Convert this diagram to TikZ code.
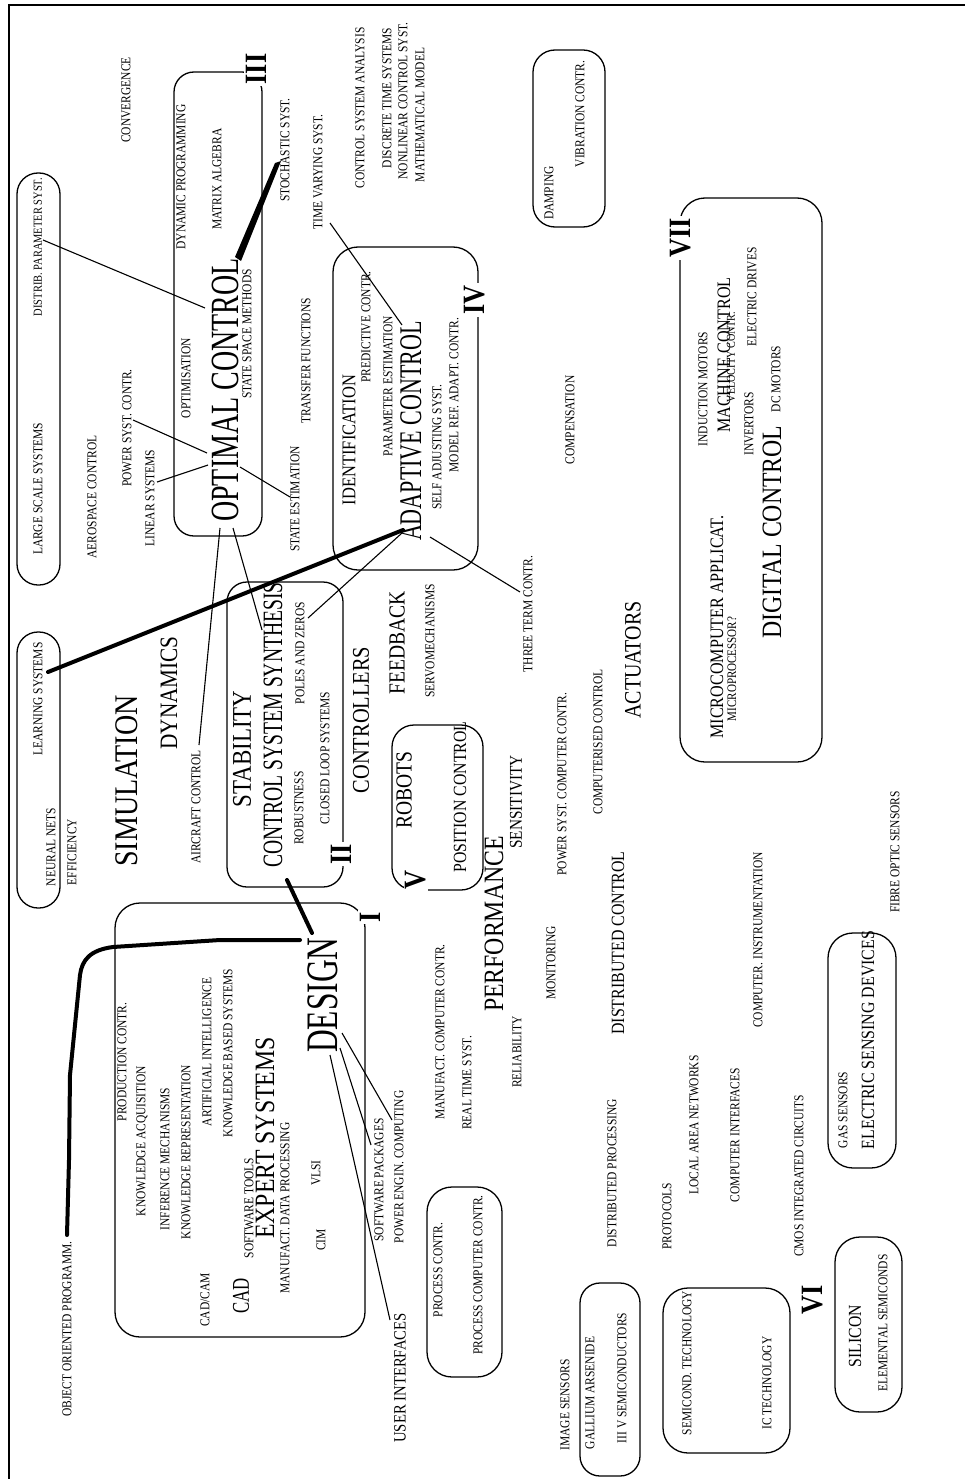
\documentclass[tikz,border=0pt]{standalone}
\usepackage{fontspec}
\setmainfont{Liberation Serif}[FakeStretch=0.85]
\newfontfamily\narrowfont{Liberation Serif}[FakeStretch=0.7]
\usetikzlibrary{calc}

\tikzset{
  lbl/.style={rotate=90, inner sep=0pt, font=\fontsize{#1}{#1}\selectfont},
  lbl/.default=13.5,
  nlbl/.style={rotate=90, inner sep=0pt, font=\narrowfont\fontsize{#1}{#1}\selectfont},
  grp/.style={draw, line width=1.3pt, rounded corners=#1, inner sep=0pt},
  grp/.default=20pt,
  roman/.style={rotate=90, fill=white, inner sep=2pt, font=\bfseries\fontsize{31}{31}\selectfont},
  link/.style={line width=1.1pt},
  heavy/.style={line width=4pt, line join=round, line cap=round},
}

\begin{document}
\begin{tikzpicture}[x=1pt,y=-1pt]
\useasboundingbox (0,0) rectangle (965,1479);
\draw[line width=1.3pt] (9,5) rectangle (985,1495);

% group boxes
\node[grp=21pt, minimum width=43pt, minimum height=412pt] (lsbox) at (38.5,379) {};
\node[grp=21pt, minimum width=43pt, minimum height=276pt] (learnbox) at (38.5,770) {};
\node[grp, minimum width=88pt, minimum height=464pt] (optbox) at (218,304) {};
\node[grp, minimum width=116pt, minimum height=305pt] (stabbox) at (285,734.5) {};
\node[grp=25pt, minimum width=145pt, minimum height=323pt] (adaptbox) at (405.5,408.5) {};
\node[grp=22pt, minimum width=91pt, minimum height=165pt] (robotbox) at (437.5,807.5) {};
\node[grp=25pt, minimum width=250pt, minimum height=434pt] (designbox) at (240,1120) {};
\node[grp=22pt, minimum width=72pt, minimum height=177pt] (vibbox) at (569,138.5) {};
\node[grp=25pt, minimum width=142pt, minimum height=564pt] (digbox) at (751,480) {};
\node[grp=25pt, minimum width=75pt, minimum height=190pt] (procbox) at (464.5,1282) {};
\node[grp, minimum width=60pt, minimum height=193pt] (gaasbox) at (610,1379.5) {};
\node[grp=25pt, minimum width=127pt, minimum height=165pt] (semibox) at (726.5,1370.5) {};
\node[grp=25pt, minimum width=67pt, minimum height=175pt] (silbox) at (868.5,1324.5) {};
\node[grp=25pt, minimum width=68pt, minimum height=235pt] (esdbox) at (862,1050.5) {};

% optimal control
\node[lbl] (convergence) at (126,100) {CONVERGENCE};
\node[lbl=12.3] (distrib) at (38,247) {DISTRIB. PARAMETER SYST.};
\node[lbl] (largescale) at (38,489) {LARGE SCALE SYSTEMS};
\node[lbl] (aerospace) at (92,497) {AEROSPACE CONTROL};
\node[lbl] (powersyst) at (127,428) {POWER SYST. CONTR.};
\node[lbl] (linear) at (150,498) {LINEAR SYSTEMS};
\node[lbl] (dynprog) at (181,177) {DYNAMIC PROGRAMMING};
\node[lbl] (optimis) at (186,378) {OPTIMISATION};
\node[lbl] (matrix) at (217,179) {MATRIX ALGEBRA};
\node[nlbl=40] (optimal) at (225,390) {OPTIMAL CONTROL};
\node[lbl] (ssmethods) at (247,334) {STATE SPACE METHODS};
\node[lbl] (stochastic) at (285,150) {STOCHASTIC SYST.};
\node[lbl] (stateest) at (295,499) {STATE  ESTIMATION};
\node[lbl] (transfer) at (306,361) {TRANSFER FUNCTIONS};
\node[lbl] (timevar) at (318,172) {TIME VARYING SYST.};

% analysis
\node[lbl] (csanalysis) at (360,108) {CONTROL SYSTEM ANALYSIS};
\node[lbl] (discrete) at (387,98) {DISCRETE TIME SYSTEMS};
\node[lbl] (nonlinear) at (403,101) {NONLINEAR CONTROL SYST.};
\node[lbl] (mathmodel) at (420,115) {MATHEMATICAL MODEL};
\node[lbl] (damping) at (549,193) {DAMPING};
\node[lbl] (vibration) at (580,114) {VIBRATION CONTR.};

% adaptive control
\node[lbl=19.4] (identif) at (349,440) {IDENTIFICATION};
\node[lbl] (predictive) at (366,327) {PREDICTIVE CONTR.};
\node[lbl] (paramest) at (388,386) {PARAMETER ESTIMATION};
\node[nlbl=31.5] (adaptive) at (411,431) {ADAPTIVE CONTROL};
\node[lbl] (selfadj) at (437,447) {SELF ADJUSTING SYST.};
\node[lbl] (modelref) at (454,395) {MODEL REF. ADAPT. CONTR.};
\node[lbl] (compens) at (570,420) {COMPENSATION};
\node[lbl] (threeterm) at (528,614) {THREE TERM CONTR.};

% digital control
\node[lbl] (induction) at (703,389) {INDUCTION MOTORS};
\node[lbl=19] (machine) at (724,355) {MACHINE CONTROL};
\node[lbl=12] (velocity) at (731,357) {VELOCITY CONTR.};
\node[lbl] (elecdrives) at (752,297) {ELECTRIC DRIVES};
\node[lbl] (dcmotors) at (776,379) {DC MOTORS};
\node[lbl] (invertors) at (749,424) {INVERTORS};
\node[lbl=19] (microapp) at (717,627) {MICROCOMPUTER APPLICAT.};
\node[lbl=13] (microproc) at (732,669) {MICROPROCESSOR?};
\node[lbl=28] (digital) at (772,532) {DIGITAL CONTROL};

% stability and middle
\node[lbl] (learning) at (38,699) {LEARNING SYSTEMS};
\node[lbl] (neural) at (51,847) {NEURAL NETS};
\node[lbl] (efficiency) at (72,852) {EFFICIENCY};
\node[lbl=25] (dynamics) at (169,693) {DYNAMICS};
\node[lbl=33] (simulation) at (127,781) {SIMULATION};
\node[lbl] (aircraft) at (196,807) {AIRCRAFT CONTROL};
\node[lbl=27] (stability) at (242,749) {STABILITY};
\node[nlbl=28] (css) at (273,725) {CONTROL SYSTEM SYNTHESIS};
\node[lbl] (poles) at (300,653) {POLES AND ZEROS};
\node[lbl] (robustness) at (299,808) {ROBUSTNESS};
\node[lbl] (closedloop) at (325,758) {CLOSED LOOP SYSTEMS};
\node[lbl=24] (controllers) at (361,720) {CONTROLLERS};
\node[lbl=23] (feedback) at (397,643) {FEEDBACK};
\node[lbl] (servo) at (430,641) {SERVOMECHANISMS};
\node[lbl=23] (robots) at (404,790) {ROBOTS};
\node[lbl=18.6] (position) at (460,797) {POSITION CONTROL};
\node[lbl=28] (performance) at (494,924) {PERFORMANCE};
\node[lbl=18] (sensitivity) at (516,802) {SENSITIVITY};
\node[lbl] (powercomp) at (562,784) {POWER SYST. COMPUTER CONTR.};
\node[lbl] (computerised) at (598,742) {COMPUTERISED CONTROL};
\node[lbl=23.5] (actuators) at (633,660) {ACTUATORS};
\node[lbl=18.7] (distctrl) at (618,943) {DISTRIBUTED CONTROL};
\node[lbl] (monitoring) at (551,963) {MONITORING};
\node[lbl] (reliability) at (517,1052) {RELIABILITY};
\node[lbl] (manufcomp) at (440,1032) {MANUFACT. COMPUTER CONTR.};
\node[lbl] (realtime) at (467,1083) {REAL TIME SYST.};

% design
\node[lbl] (production) at (122,1062) {PRODUCTION CONTR.};
\node[lbl] (knowacq) at (142,1141) {KNOWLEDGE ACQUISITION};
\node[lbl] (inference) at (165,1159) {INFERENCE MECHANISMS};
\node[lbl] (knowrep) at (186,1152) {KNOWLEDGE REPRESENTATION};
\node[lbl] (artint) at (207,1052) {ARTIFICIAL INTELLIGENCE};
\node[lbl] (knowbased) at (228,1053) {KNOWLEDGE BASED SYSTEMS};
\node[lbl=28] (expert) at (265,1138) {EXPERT SYSTEMS};
\node[lbl] (cadcam) at (205,1300) {CAD/CAM};
\node[nlbl=24] (cad) at (241,1296) {CAD};
\node[lbl] (softtools) at (249,1208) {SOFTWARE TOOLS};
\node[lbl] (manufdata) at (285,1208) {MANUFACT. DATA PROCESSING};
\node[lbl] (vlsi) at (316,1173) {VLSI};
\node[lbl] (cim) at (321,1240) {CIM};
\node[nlbl=45] (design) at (323,995) {DESIGN};
\node[lbl] (softpack) at (379,1180) {SOFTWARE PACKAGES};
\node[lbl] (powerengin) at (399,1167) {POWER ENGIN. COMPUTING};
\node[lbl=17.3] (userint) at (400,1378) {USER INTERFACES};
\node[lbl] (oop) at (67,1329) {OBJECT ORIENTED PROGRAMM.};

% technology
\node[lbl] (proc) at (438,1270) {PROCESS CONTR.};
\node[lbl] (proccomp) at (478,1275) {PROCESS COMPUTER CONTR.};
\node[lbl] (distproc) at (612,1173) {DISTRIBUTED PROCESSING};
\node[lbl] (imagesens) at (565,1405) {IMAGE SENSORS};
\node[lbl] (gallium) at (590,1393) {GALLIUM ARSENIDE};
\node[lbl] (threefive) at (622,1378) {III V SEMICONDUCTORS};
\node[lbl] (fibre) at (895,852) {FIBRE OPTIC SENSORS};
\node[lbl] (instrument) at (758,940) {COMPUTER. INSTRUMENTATION};
\node[lbl] (lan) at (694,1125) {LOCAL AREA NETWORKS};
\node[lbl] (compint) at (735,1135) {COMPUTER INTERFACES};
\node[lbl] (cmos) at (799,1176) {CMOS INTEGRATED CIRCUITS};
\node[lbl] (gas) at (843,1110) {GAS SENSORS};
\node[lbl=18.7] (esd) at (868,1040) {ELECTRIC SENSING DEVICES};
\node[lbl] (protocols) at (667,1216) {PROTOCOLS};
\node[lbl] (semitech) at (687,1363) {SEMICOND. TECHNOLOGY};
\node[lbl] (ictech) at (767,1383) {IC TECHNOLOGY};
\node[lbl=18.5] (silicon) at (855,1336) {SILICON};
\node[lbl] (elemental) at (883,1323) {ELEMENTAL SEMICONDS};

% links
\draw[link] ($(distrib)+(5,-7)$) -- ($(optimal)+(-20,-82)$);
\draw[link] ($(powersyst)+(6,-8)$) -- ($(optimal)+(-18,63)$);
\draw[link] ($(linear)+(7,-16)$) -- ($(optimal)+(-17,75)$);
\draw[link] ($(optimal)+(15,77)$) -- ($(stateest)+(-5,-2)$);
\draw[link] ($(optimal)+(-5,138)$) -- ($(aircraft)+(3,-62)$);
\draw[link] ($(optimal)+(8,138)$) -- ($(css)+(-11,-95)$);
\fill ($(optimal)+(10,-133)$) -- ($(stochastic)+(-10,13)$) -- ($(stochastic)+(-4,11)$) -- ($(optimal)+(16,-129)$) -- cycle;
\draw[link] ($(timevar)+(12,51)$) -- ($(adaptive)+(-9,-106)$);
\draw[link] ($(poles)+(8,-35)$) -- ($(adaptive)+(-9,102)$);
\draw[link] ($(adaptive)+(19,106)$) -- ($(threeterm)+(-8,-22)$);
\draw[heavy] ($(learning)+(10,-27)$) -- ($(adaptive)+(-8,99)$);
\draw[heavy] ($(design)+(-11,-62)$) -- ($(css)+(14,155)$);
\draw[heavy] ($(design)+(-23,-55)$) -- (220,940) -- (113,947)
  .. controls (90,950) and (82,960) .. (80,975) -- (70,1075) -- (69,1160) -- ($(oop)+(0,-94)$);
\draw[link] ($(design)+(7,60)$) -- ($(userint)+(-10,-58)$);
\draw[link] ($(design)+(17,53)$) -- ($(softpack)+(-8,-35)$);
\draw[link] ($(design)+(19,38)$) -- ($(powerengin)+(-7,-47)$);

% group numbers
\node[roman] (nI) at (370,917) {I};
\node[roman] (nII) at (341,854) {II};
\node[roman] (nIII) at (256,69) {III};
\node[roman] (nIV) at (475,300) {IV};
\node[roman] (nV) at (416,880) {V};
\node[roman] (nVI) at (813,1300) {VI};
\node[roman] (nVII) at (681,238) {VII};
\end{tikzpicture}
\end{document}
